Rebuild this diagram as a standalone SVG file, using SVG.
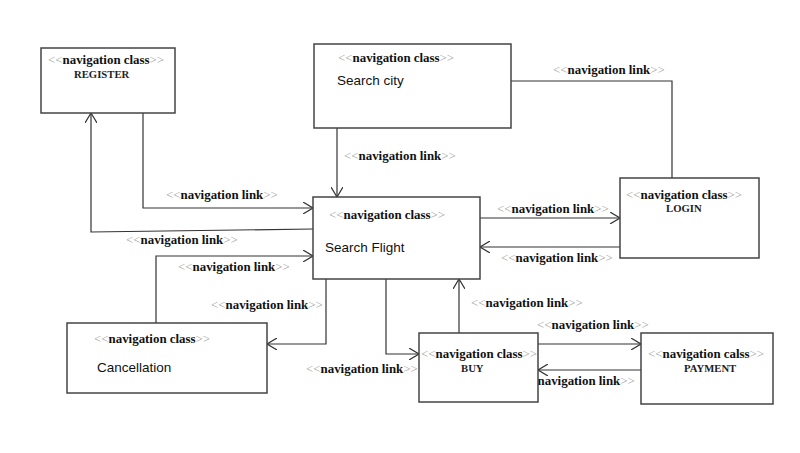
<svg xmlns="http://www.w3.org/2000/svg" width="800" height="453" viewBox="0 0 800 453">
<defs>
<style>
.box{fill:#fff;stroke:#444;stroke-width:1.5}
.ln{fill:none;stroke:#333;stroke-width:1.2}
.st{font-family:"Liberation Serif",serif;font-size:12.9px;font-weight:bold;fill:#111}
.g{fill:#999;font-weight:normal}
.nm{font-family:"Liberation Serif",serif;font-size:10.7px;font-weight:bold;fill:#222}
.big{font-family:"Liberation Sans",Arial,sans-serif;font-size:13.5px;fill:#111}
</style>
<marker id="arr" viewBox="0 0 10 12" refX="10" refY="6" markerWidth="10" markerHeight="12" markerUnits="userSpaceOnUse" orient="auto">
<path d="M0,0 L10,6 L0,12" fill="none" stroke="#333" stroke-width="1.2"/>
</marker>
</defs>
<rect width="800" height="453" fill="#fff"/>
<g id="connectors">
<path class="ln" d="M337,128 V197" marker-end="url(#arr)"/>
<path class="ln" d="M511,81 H672 V178"/>
<path class="ln" d="M480,218 H620" marker-end="url(#arr)"/>
<path class="ln" d="M620,247 H480" marker-end="url(#arr)"/>
<path class="ln" d="M143,113 V208 H313" marker-end="url(#arr)"/>
<path class="ln" d="M313,229 L91,232 V113" marker-end="url(#arr)"/>
<path class="ln" d="M156,323 V256 H313" marker-end="url(#arr)"/>
<path class="ln" d="M326,279 V344 H267" marker-end="url(#arr)"/>
<path class="ln" d="M386,279 V354 H419" marker-end="url(#arr)"/>
<path class="ln" d="M459,333 V279" marker-end="url(#arr)"/>
<path class="ln" d="M538,344 H641" marker-end="url(#arr)"/>
<path class="ln" d="M641,370 H538" marker-end="url(#arr)"/>
<text class="st" x="344" y="160"><tspan class="g">&lt;&lt;</tspan>navigation link<tspan class="g">&gt;&gt;</tspan></text>
<text class="st" x="553" y="74"><tspan class="g">&lt;&lt;</tspan>navigation link<tspan class="g">&gt;&gt;</tspan></text>
<text class="st" x="497" y="213"><tspan class="g">&lt;&lt;</tspan>navigation link<tspan class="g">&gt;&gt;</tspan></text>
<text class="st" x="501" y="262"><tspan class="g">&lt;&lt;</tspan>navigation link<tspan class="g">&gt;&gt;</tspan></text>
<text class="st" x="166" y="199"><tspan class="g">&lt;&lt;</tspan>navigation link<tspan class="g">&gt;&gt;</tspan></text>
<text class="st" x="126" y="244"><tspan class="g">&lt;&lt;</tspan>navigation link<tspan class="g">&gt;&gt;</tspan></text>
<text class="st" x="178" y="271"><tspan class="g">&lt;&lt;</tspan>navigation link<tspan class="g">&gt;&gt;</tspan></text>
<text class="st" x="211" y="309"><tspan class="g">&lt;&lt;</tspan>navigation link<tspan class="g">&gt;&gt;</tspan></text>
<text class="st" x="306" y="373"><tspan class="g">&lt;&lt;</tspan>navigation link<tspan class="g">&gt;&gt;</tspan></text>
<text class="st" x="471" y="307"><tspan class="g">&lt;&lt;</tspan>navigation link<tspan class="g">&gt;&gt;</tspan></text>
<text class="st" x="537" y="329"><tspan class="g">&lt;&lt;</tspan>navigation link<tspan class="g">&gt;&gt;</tspan></text>
<text class="st" x="523" y="385"><tspan class="g">&lt;&lt;</tspan>navigation link<tspan class="g">&gt;&gt;</tspan></text>
</g>
<g id="register">
<rect class="box" x="41" y="48" width="134" height="65"/>
<text class="st" x="48" y="64"><tspan class="g">&lt;&lt;</tspan>navigation class<tspan class="g">&gt;&gt;</tspan></text>
<text class="nm" x="74" y="78">REGISTER</text>
</g>
<g id="search-city">
<rect class="box" x="314" y="44" width="197" height="84"/>
<text class="st" x="338" y="62"><tspan class="g">&lt;&lt;</tspan>navigation class<tspan class="g">&gt;&gt;</tspan></text>
<text class="big" x="337" y="85">Search city</text>
</g>
<g id="search-flight">
<rect class="box" x="313" y="197" width="167" height="82"/>
<text class="st" x="329" y="219"><tspan class="g">&lt;&lt;</tspan>navigation class<tspan class="g">&gt;&gt;</tspan></text>
<text class="big" x="325" y="252">Search Flight</text>
</g>
<g id="login">
<rect class="box" x="620" y="178" width="139" height="80"/>
<text class="st" x="626" y="199"><tspan class="g">&lt;&lt;</tspan>navigation class<tspan class="g">&gt;&gt;</tspan></text>
<text class="nm" x="666" y="212">LOGIN</text>
</g>
<g id="cancellation">
<rect class="box" x="67" y="323" width="200" height="70"/>
<text class="st" x="94" y="343"><tspan class="g">&lt;&lt;</tspan>navigation class<tspan class="g">&gt;&gt;</tspan></text>
<text class="big" x="97" y="372">Cancellation</text>
</g>
<g id="buy">
<rect class="box" x="419" y="333" width="119" height="69"/>
<text class="st" x="421" y="358"><tspan class="g">&lt;&lt;</tspan>navigation class<tspan class="g">&gt;&gt;</tspan></text>
<text class="nm" x="461" y="372">BUY</text>
</g>
<g id="payment">
<rect class="box" x="641" y="333" width="132" height="71"/>
<text class="st" x="648" y="358"><tspan class="g">&lt;&lt;</tspan>navigation calss<tspan class="g">&gt;&gt;</tspan></text>
<text class="nm" x="684" y="372">PAYMENT</text>
</g>
</svg>
